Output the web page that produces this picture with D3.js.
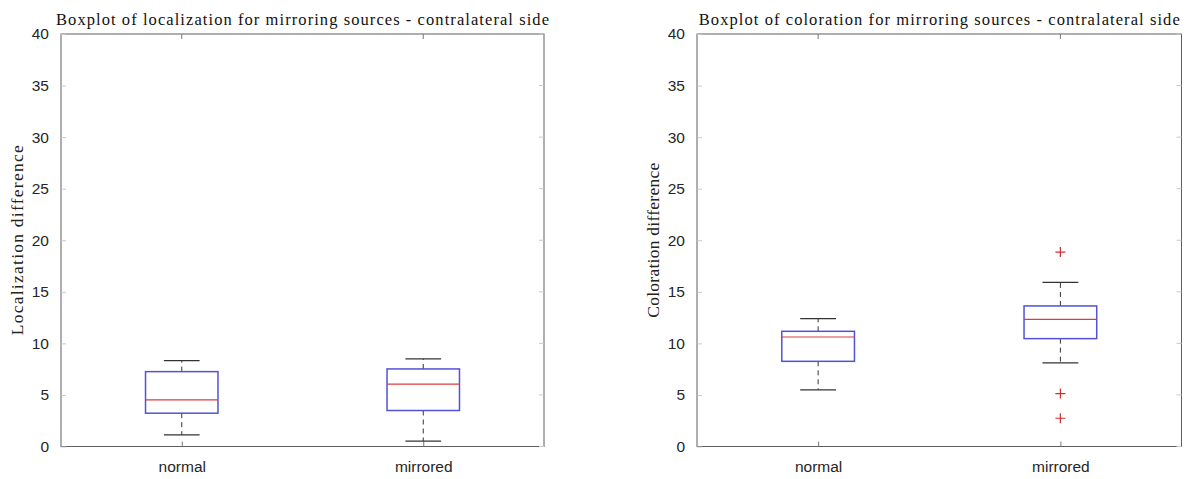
<!DOCTYPE html>
<html>
<head>
<meta charset="utf-8">
<script src="https://cdn.jsdelivr.net/npm/d3@7"></script>
<style>
  html, body { margin: 0; padding: 0; background: #fff; }
  svg { display: block; }
</style>
</head>
<body>
<svg id="chart" width="1190" height="479"></svg>
<script>
// Groups on the horizontal axis
const categories = ["normal", "mirrored"];
const yTicks = [0, 5, 10, 15, 20, 25, 30, 35, 40];

// Localization difference: box summary per group
const locWhiskerLow  = [1.13, 0.52];
const locQ1          = [3.23, 3.49];
const locMedian      = [4.52, 6.04];
const locQ3          = [7.26, 7.52];
const locWhiskerHigh = [8.33, 8.49];
const locOutliers    = [[], []];

// Coloration difference: box summary per group
const colWhiskerLow  = [5.49, 8.10];
const colQ1          = [8.26, 10.46];
const colMedian      = [10.62, 12.33];
const colQ3          = [11.17, 13.63];
const colWhiskerHigh = [12.40, 15.92];
const colOutliers    = [[], [18.85, 5.13, 2.74]];

const panels = [
  {
    title: "Boxplot of localization for mirroring sources - contralateral side",
    titleWidth: 493,
    ylabel: "Localization difference",
    ylabelWidth: 190,
    left: 61, right: 544,
    lo: locWhiskerLow, q1: locQ1, med: locMedian, q3: locQ3, hi: locWhiskerHigh, out: locOutliers
  },
  {
    title: "Boxplot of coloration for mirroring sources - contralateral side",
    titleWidth: 481,
    ylabel: "Coloration difference",
    ylabelWidth: 155,
    left: 697, right: 1181.5,
    lo: colWhiskerLow, q1: colQ1, med: colMedian, q3: colQ3, hi: colWhiskerHigh, out: colOutliers
  }
];

const plotTop = 34, plotBottom = 446.5;
const axisColor = "#5f5f5f";
const svg = d3.select("#chart");

panels.forEach(p => {
  const g = svg.append("g");
  const x = d3.scaleLinear().domain([0.5, 2.5]).range([p.left, p.right]);
  const y = d3.scaleLinear().domain([0, 40]).range([plotBottom, plotTop]);
  const boxHalf = 0.15, capHalf = 0.074;

  // Axes box
  g.append("rect")
    .attr("x", p.left).attr("y", plotTop)
    .attr("width", p.right - p.left).attr("height", plotBottom - plotTop)
    .attr("fill", "none").attr("stroke", axisColor).attr("stroke-width", 1);

  // Left axis with inward ticks
  const yAxis = d3.axisLeft(y).tickValues(yTicks).tickSize(-5).tickPadding(12);
  const ya = g.append("g").attr("transform", `translate(${p.left},0)`).call(yAxis);
  ya.select(".domain").remove();
  ya.selectAll(".tick line").attr("stroke", "#c8c8c8");
  ya.selectAll("text").attr("font-family", "Liberation Sans, Arial, sans-serif")
    .attr("font-size", 15.5).attr("fill", "#262626");

  // Right-side ticks
  g.selectAll(".rtick").data(yTicks).enter().append("line")
    .attr("x1", p.right).attr("x2", p.right - 5)
    .attr("y1", d => y(d)).attr("y2", d => y(d))
    .attr("stroke", "#c8c8c8");

  // Bottom axis with category labels
  const xAxis = d3.axisBottom(x).tickValues([1, 2])
    .tickFormat((d, i) => categories[i]).tickSize(-5).tickPadding(14);
  const xa = g.append("g").attr("transform", `translate(0,${plotBottom})`).call(xAxis);
  xa.select(".domain").remove();
  xa.selectAll(".tick line").attr("stroke", "#777");
  xa.selectAll("text").attr("font-family", "Liberation Sans, Arial, sans-serif")
    .attr("font-size", 15.5).attr("fill", "#262626");

  // Top ticks
  g.selectAll(".ttick").data([1, 2]).enter().append("line")
    .attr("x1", d => x(d)).attr("x2", d => x(d))
    .attr("y1", plotTop).attr("y2", plotTop + 5)
    .attr("stroke", "#777");

  // Title
  g.append("text")
    .attr("x", (p.left + p.right) / 2).attr("y", 25)
    .attr("text-anchor", "middle")
    .attr("font-family", "Liberation Serif, DejaVu Serif, serif")
    .attr("font-size", 16.5).attr("fill", "#111")
    .attr("textLength", p.titleWidth).attr("lengthAdjust", "spacing")
    .text(p.title);

  // Y label
  g.append("text")
    .attr("transform", `translate(${p.left - 38},${(plotTop + plotBottom) / 2}) rotate(-90)`)
    .attr("text-anchor", "middle")
    .attr("font-family", "Liberation Serif, DejaVu Serif, serif")
    .attr("font-size", 17.5).attr("fill", "#222")
    .attr("textLength", p.ylabelWidth).attr("lengthAdjust", "spacing")
    .text(p.ylabel);

  const idx = d3.range(categories.length);
  const pos = i => i + 1;

  // Whiskers (dashed)
  idx.forEach(i => {
    g.append("line")
      .attr("x1", x(pos(i))).attr("x2", x(pos(i)))
      .attr("y1", y(p.q3[i])).attr("y2", y(p.hi[i]))
      .attr("stroke", "#333").attr("stroke-dasharray", "5,4");
    g.append("line")
      .attr("x1", x(pos(i))).attr("x2", x(pos(i)))
      .attr("y1", y(p.q1[i])).attr("y2", y(p.lo[i]))
      .attr("stroke", "#333").attr("stroke-dasharray", "5,4");
  });

  // Whisker caps
  [p.hi, p.lo].forEach(arr => {
    g.selectAll(null).data(idx).enter().append("line")
      .attr("x1", i => x(pos(i) - capHalf)).attr("x2", i => x(pos(i) + capHalf))
      .attr("y1", i => y(arr[i])).attr("y2", i => y(arr[i]))
      .attr("stroke", "#333").attr("stroke-width", 1.2);
  });

  // Boxes
  g.selectAll(null).data(idx).enter().append("rect")
    .attr("x", i => x(pos(i) - boxHalf))
    .attr("y", i => y(p.q3[i]))
    .attr("width", i => x(pos(i) + boxHalf) - x(pos(i) - boxHalf))
    .attr("height", i => y(p.q1[i]) - y(p.q3[i]))
    .attr("fill", "#fff").attr("stroke", "#5252d6").attr("stroke-width", 1.5);

  // Medians
  g.selectAll(null).data(idx).enter().append("line")
    .attr("x1", i => x(pos(i) - boxHalf)).attr("x2", i => x(pos(i) + boxHalf))
    .attr("y1", i => y(p.med[i])).attr("y2", i => y(p.med[i]))
    .attr("stroke", "#e03a3a").attr("stroke-width", 1.2);

  // Outliers as "+" markers
  idx.forEach(i => {
    p.out[i].forEach(v => {
      const cx = x(pos(i)), cy = y(v), r = 5;
      g.append("path")
        .attr("d", `M${cx - r},${cy}H${cx + r}M${cx},${cy - r}V${cy + r}`)
        .attr("stroke", "#d03030").attr("stroke-width", 1.2).attr("fill", "none");
    });
  });
});
</script>
</body>
</html>
